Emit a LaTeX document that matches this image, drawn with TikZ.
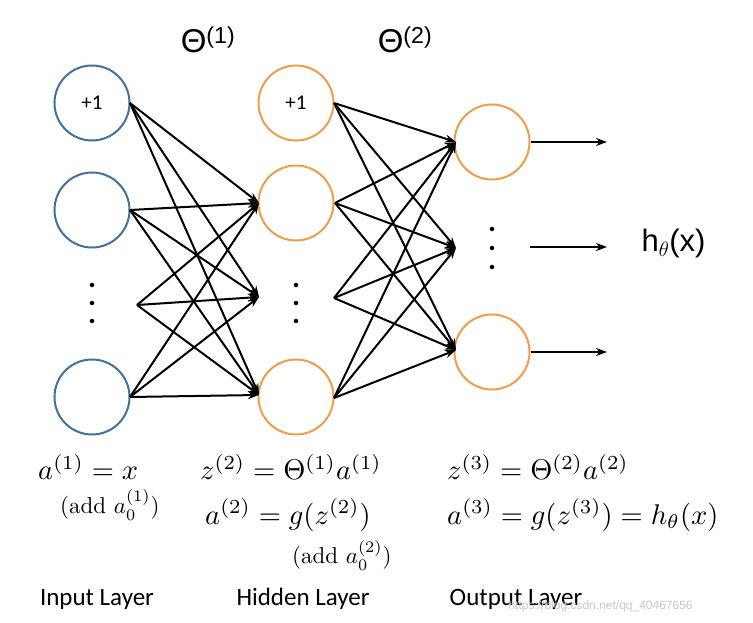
\documentclass[tikz,border=0pt]{standalone}
\usepackage{fontspec}
\newfontfamily\sansf{Carlito}
\newfontfamily\labf{Liberation Sans}
\usetikzlibrary{arrows.meta}
\definecolor{inb}{HTML}{41719C}
\definecolor{org}{HTML}{F39C4A}
\newcommand{\bigeq}[1]{\scalebox{2.85}{$#1$}}
\newcommand{\smeq}[1]{\scalebox{2.3}{(add $#1$)}}
\begin{document}
\begin{tikzpicture}[x=1pt,y=-1pt,
 inn/.style={circle,draw=inb,line width=2pt,minimum size=75pt,inner sep=0pt,font=\sansf\fontsize{21}{22}\selectfont},
 hid/.style={circle,draw=org,line width=2pt,minimum size=75pt,inner sep=0pt,font=\sansf\fontsize{21}{22}\selectfont},
 con/.style={line width=2pt,-{Stealth[length=11pt,width=8pt]}},
 eq/.style={anchor=west,inner sep=0pt},
 lay/.style={font=\sansf\fontsize{25}{27}\selectfont},
 dot/.style={circle,fill,inner sep=1.6pt}]
\useasboundingbox (0,0) rectangle (753,623);
\node[inn] (i1) at (92,103) {+1};
\node[inn] (i2) at (92,210) {};
\node[inn] (i4) at (92,397) {};
\node[hid] (h1) at (296,103) {+1};
\node[hid] (h2) at (296,203) {};
\node[hid] (h4) at (296,397) {};
\node[hid] (o1) at (492,142) {};
\node[hid] (o3) at (492,352) {};
\foreach \p/\n in {92/vi,296/vh}{
 \node[dot] (\n a) at (\p,285) {};
 \node[dot] (\n b) at (\p,303) {};
 \node[dot] (\n c) at (\p,321) {};}
\node[dot] (voa) at (492,229) {};
\node[dot] (vob) at (492,248) {};
\node[dot] (voc) at (492,267) {};
\coordinate (s1) at (130,103); \coordinate (s2) at (130,210);
\coordinate (s3) at (137,305); \coordinate (s4) at (130,397);
\coordinate (t1) at (259,203); \coordinate (t2) at (259,297); \coordinate (t3) at (259,395);
\coordinate (u1) at (334,103); \coordinate (u2) at (335,203);
\coordinate (u3) at (334,298); \coordinate (u4) at (334,398);
\coordinate (w1) at (456,142); \coordinate (w2) at (456,248); \coordinate (w3) at (456,350);
\foreach \s in {s1,s2,s3,s4}{\foreach \t in {t1,t2,t3}{\draw[con] (\s) -- (\t);}}
\foreach \s in {u1,u2,u3,u4}{\foreach \t in {w1,w2,w3}{\draw[con] (\s) -- (\t);}}
\coordinate (e1) at (607,142); \coordinate (e2) at (607,247); \coordinate (e3) at (607,352);
\coordinate (b2) at (530,247);
\draw[con] (o1) -- (e1);
\draw[con] (b2) -- (e2);
\draw[con] (o3) -- (e3);
\node[font=\labf\fontsize{33}{35}\selectfont] (th1) at (208,40) {Θ\textsuperscript{(1)}};
\node[font=\labf\fontsize{33}{35}\selectfont] (th2) at (405,40) {Θ\textsuperscript{(2)}};
\node[anchor=west,font=\labf\fontsize{31}{33}\selectfont] (hx) at (638,243) {h\textsubscript{$\theta$}(x)};
\node[eq] (f1) at (38,467) {\bigeq{a^{(1)}=x}};
\node[eq] (f2) at (60,505) {\smeq{a_0^{(1)}}};
\node[eq] (f3) at (200,467) {\bigeq{z^{(2)}=\Theta^{(1)}a^{(1)}}};
\node[eq] (f4) at (205,515) {\bigeq{a^{(2)}=g(z^{(2)})}};
\node[eq] (f5) at (292,555) {\smeq{a_0^{(2)}}};
\node[eq] (f6) at (447,467) {\bigeq{z^{(3)}=\Theta^{(2)}a^{(2)}}};
\node[eq] (f7) at (447,515) {\bigeq{a^{(3)}=g(z^{(3)})=h_\theta(x)}};
\node[lay] (l1) at (97,599) {Input Layer};
\node[lay] (l2) at (303,599) {Hidden Layer};
\node[lay] (l3) at (516,599) {Output Layer};
\node[anchor=west,text=black!22,font=\labf\fontsize{12}{13}\selectfont] (wm) at (505,606) {https://blog.csdn.net/qq\_40467656};
\end{tikzpicture}
\end{document}
